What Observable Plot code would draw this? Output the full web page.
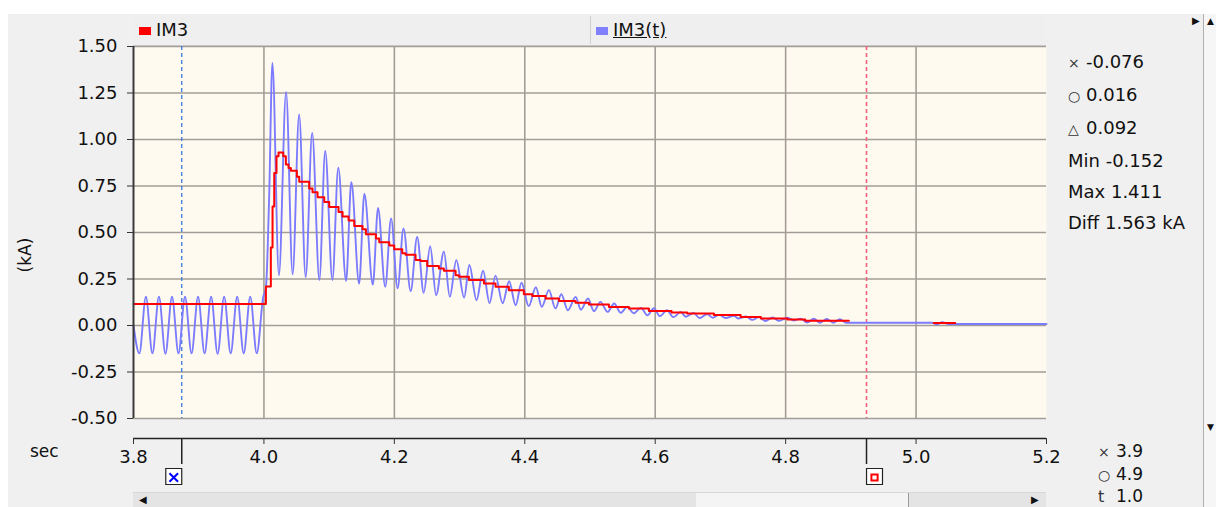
<!DOCTYPE html>
<html><head><meta charset="utf-8">
<script src="https://cdn.jsdelivr.net/npm/d3@7"></script>
<script src="https://cdn.jsdelivr.net/npm/@observablehq/plot@0.6"></script>
<style>
body{margin:0;background:#fff;font-family:"DejaVu Sans",sans-serif;color:#111;}
#wrap{position:relative;width:1216px;height:507px;overflow:hidden;background:#fff;}
.abs{position:absolute;}
#panel{left:8px;top:14px;width:1195px;height:493px;background:#f0f0f0;}
#header{left:133px;top:14px;width:913px;height:31px;background:#efefef;border-bottom:1px solid #d4d4d4;}
.sw{position:absolute;width:12px;height:8px;top:13px;}
.lg{position:absolute;top:6px;font-size:18px;line-height:20px;}
#sep{position:absolute;left:457px;top:2px;width:1px;height:28px;background:#cfcfcf;}
#rp{left:1068px;top:46px;font-size:18px;line-height:31px;}
#rp2{left:1098px;top:441px;font-size:17px;line-height:21.5px;}
.g{display:inline-block;width:18px;font-size:14px;color:#333;text-align:left;}
#sec{left:30px;top:441px;font-size:17px;}
#ka{left:25px;top:255px;font-size:17px;transform:translate(-50%,-50%) rotate(-90deg);}
#vscroll{left:1203px;top:14px;width:13px;height:493px;background:#f6f6f6;border-left:1px solid #b0b0b0;}
#hscroll{left:133px;top:492px;width:913px;height:15px;background:#e4e4e4;border-top:1px solid #d8d8d8;}
#thumb{position:absolute;left:563px;top:0;width:212px;height:15px;background:#f4f4f4;border-right:1px solid #9a9a9a;}
svg{position:absolute;left:0;top:0;}
</style></head><body>
<div id="wrap">
  <div id="panel" class="abs"></div>
  <div id="header" class="abs">
    <div class="sw" style="left:6px;background:#ff0000"></div>
    <div class="lg" style="left:23px">IM3</div>
    <div id="sep"></div>
    <div class="sw" style="left:463px;background:#8080ff"></div>
    <div class="lg" style="left:480px;text-decoration:underline">IM3(t)</div>
  </div>
  <div id="rp" class="abs"></div>
  <div id="rp2" class="abs"></div>
  <div id="sec" class="abs">sec</div>
  <div id="ka" class="abs">(kA)</div>
  <div id="vscroll" class="abs"><div style="position:absolute;left:3px;top:2px;font-size:9px">▲</div><div style="position:absolute;left:3px;top:408px;font-size:9px">▼</div></div>
  <div class="abs" style="left:1192px;top:15px;font-size:10px">▶</div>
  <div id="hscroll" class="abs"><div id="thumb"></div><div style="position:absolute;left:6px;top:1px;font-size:10px">◀</div><div style="position:absolute;left:898px;top:1px;font-size:10px">▶</div></div>
</div>
<script>
// ---- data ----
const xTicks = [3.8, 4.0, 4.2, 4.4, 4.6, 4.8, 5.0, 5.2];
const xGrid = [4.0, 4.2, 4.4, 4.6, 4.8, 5.0];
const yTicks = [-0.5, -0.25, 0, 0.25, 0.5, 0.75, 1.0, 1.25, 1.5];
const cursorTimes = [3.874, 4.924];
const cursorGlyphs = ["×", "○", "△"];
const cursorValues = ["-0.076", "0.016", "0.092"];
const statLabels = ["Min", "Max", "Diff"];
const statValues = ["-0.152", "1.411", "1.563 kA"];
const timeLabels = ["3.9", "4.9", "1.0"];

// IM3(t): instantaneous current, extremes of each half cycle (sec, kA)
const blueT = [3.800,3.809,3.819,3.829,3.839,3.849,3.859,3.869,3.879,3.889,3.899,3.909,3.919,3.929,3.939,3.949,3.959,3.969,3.979,3.989,3.999,
  4.003,4.008,4.013,4.023,4.034,4.044,4.054,4.064,4.074,4.085,4.094,4.105,4.114,4.126,4.134,4.146,4.154,4.167,4.175,4.186,4.195,4.205,
  4.214,4.225,4.235,4.245,4.255,4.264,4.276,4.285,4.295,4.307,4.315,4.326,4.336,4.346,4.355,4.366,4.376,4.386,4.395,4.406,
  4.417,4.426,4.437,4.447,4.456,4.466,4.478,4.486,4.497,4.506,4.516,4.527,4.537,4.547,4.557,4.567,4.578,4.588,4.598,4.607,
  4.618,4.628,4.639,4.647,4.659,4.668,4.680,4.688,4.698,4.708,4.721,4.727,4.739,4.749,4.759,4.769,4.780,4.790,4.803,4.812,
  4.823,4.833,4.843,4.853,4.863,4.873,4.883,4.893,4.950,5.025,5.032,5.040,5.050,5.200];
const blueV = [0.00,-0.150,0.155,-0.150,0.155,-0.152,0.155,-0.150,0.155,-0.150,0.155,-0.150,0.155,-0.152,0.155,-0.150,0.155,-0.150,0.155,-0.150,0.155,
  0.20,0.69,1.411,0.27,1.256,0.275,1.135,0.26,1.035,0.245,0.938,0.245,0.848,0.24,0.77,0.225,0.708,0.22,0.632,0.208,0.576,0.20,
  0.522,0.185,0.476,0.176,0.426,0.163,0.397,0.154,0.351,0.15,0.325,0.136,0.294,0.12,0.268,0.12,0.238,0.109,0.23,0.104,
  0.206,0.10,0.19,0.091,0.168,0.082,0.154,0.085,0.145,0.077,0.127,0.073,0.118,0.068,0.10,0.066,0.095,0.055,0.093,0.05,
  0.082,0.045,0.073,0.047,0.068,0.04,0.062,0.042,0.057,0.04,0.052,0.038,0.048,0.03,0.045,0.024,0.043,0.025,0.042,0.027,
  0.037,0.016,0.036,0.015,0.035,0.015,0.034,0.015,0.015,0.015,0.006,0.018,0.008,0.008];

// IM3: magnitude (stepped), NaN = hidden gap
const redT = [3.800,4.003,4.0106,4.0132,4.0158,4.0193,4.0224,4.0296,4.0336,4.0377,4.0413,4.0505,4.0541,4.0694,4.0745,4.0822,
  4.0925,4.1001,4.1144,4.1206,4.1298,4.1385,4.1512,4.1564,4.1717,4.1768,4.1922,4.1998,4.2121,4.2172,4.2325,4.2402,4.2504,
  4.2683,4.2759,4.2939,4.2990,4.3143,4.3373,4.3552,4.3756,4.3986,4.4115,4.4319,4.4523,4.4779,4.4983,4.5290,4.5597,4.5903,
  4.6250,4.6490,4.6900,4.7310,4.7620,4.8026,4.8300,4.8970,4.9000,5.0270,5.0600];
const redV = [0.115,0.21,0.42,0.64,0.82,0.91,0.93,0.91,0.865,0.847,0.832,0.80,0.773,0.737,0.716,0.69,
  0.664,0.637,0.61,0.586,0.565,0.535,0.517,0.49,0.468,0.447,0.43,0.41,0.388,0.38,0.352,0.347,0.32,
  0.307,0.294,0.27,0.262,0.244,0.226,0.208,0.19,0.168,0.158,0.145,0.132,0.122,0.113,0.10,0.091,0.078,
  0.07,0.064,0.057,0.046,0.037,0.032,0.025,0.025,NaN,0.014,0.014];

// ---- side texts ----
document.getElementById("rp").innerHTML =
  cursorGlyphs.map((g,i)=>`<div><span class="g">${g}</span>${cursorValues[i]}</div>`).join("") +
  statLabels.map((l,i)=>`<div>${l} ${statValues[i]}</div>`).join("");
document.getElementById("rp2").innerHTML =
  ["×","○","t"].map((g,i)=>`<div><span class="g" style="${g==='t'?'font-size:16px':''}">${g}</span>${timeLabels[i]}</div>`).join("");

const blue = blueT.map((t,i)=>({t, v: blueV[i]}));
const red = redT.map((t,i)=>({t, v: redV[i]}));
const yMin = yTicks[0];

const chart = Plot.plot({
  width: 1216, height: 507,
  marginLeft: 133, marginRight: 170, marginTop: 46, marginBottom: 89,
  x: {domain: [xTicks[0], xTicks[xTicks.length-1]]},
  y: {domain: [yTicks[0], yTicks[yTicks.length-1]]},
  style: {background: "none", fontFamily: "DejaVu Sans", color: "#111", overflow: "visible"},
  marks: [
    Plot.frame({fill: "#fffaf0", stroke: null}),
    Plot.gridX(xGrid, {stroke: "#a29e97", strokeOpacity: 1, strokeWidth: 1.6}),
    Plot.gridY(yTicks, {stroke: "#a29e97", strokeOpacity: 1, strokeWidth: 1.6}),
    Plot.ruleX([cursorTimes[0]], {stroke: "#3d78dc", strokeDasharray: "4,3", strokeWidth: 1.3}),
    Plot.ruleX([cursorTimes[1]], {stroke: "#f5607c", strokeDasharray: "4,3", strokeWidth: 1.6}),
    Plot.line(blue, {x: "t", y: "v", curve: "monotone-x", stroke: "#7b7bff", strokeWidth: 1.9}),
    Plot.line(red, {x: "t", y: "v", curve: "step-after", stroke: "#ff0000", strokeWidth: 2}),
    Plot.ruleX([xTicks[0]], {stroke: "#3a3a3a", strokeWidth: 2}),
    Plot.axisY({ticks: yTicks, tickFormat: d => d.toFixed(2), tickSize: 6, tickPadding: 10, fontSize: 18, label: null, stroke: "#333"}),
    Plot.ruleY([yMin], {dy: 20, stroke: "#222", strokeWidth: 1.6}),
    Plot.axisX({ticks: xTicks, tickFormat: d => d.toFixed(1), tickSize: 6, tickPadding: 6, fontSize: 18, label: null, dy: 20, stroke: "#333"}),
    // cursor flags under the time axis
    Plot.ruleX(cursorTimes, {insetTop: 346, dy: 46, stroke: "#222", strokeWidth: 1.5}),
    Plot.dot([cursorTimes[0]], {x: d => d, frameAnchor: "bottom", dy: 58, dx: -8, symbol: "square", r: 9, fill: "#fff", stroke: "#222", strokeWidth: 1.2}),
    Plot.dot([cursorTimes[1]], {x: d => d, frameAnchor: "bottom", dy: 58, dx: 8, symbol: "square", r: 9, fill: "#fff", stroke: "#222", strokeWidth: 1.2}),
    Plot.dot([cursorTimes[0]], {x: d => d, frameAnchor: "bottom", dy: 59, dx: -8, symbol: "times", r: 4, stroke: "#0000ff", strokeWidth: 2}),
    Plot.dot([cursorTimes[1]], {x: d => d, frameAnchor: "bottom", dy: 59, dx: 8, symbol: "square", r: 3.5, fill: "none", stroke: "#ff0000", strokeWidth: 2})
  ]
});
document.getElementById("wrap").appendChild(chart);
</script>
</body></html>
